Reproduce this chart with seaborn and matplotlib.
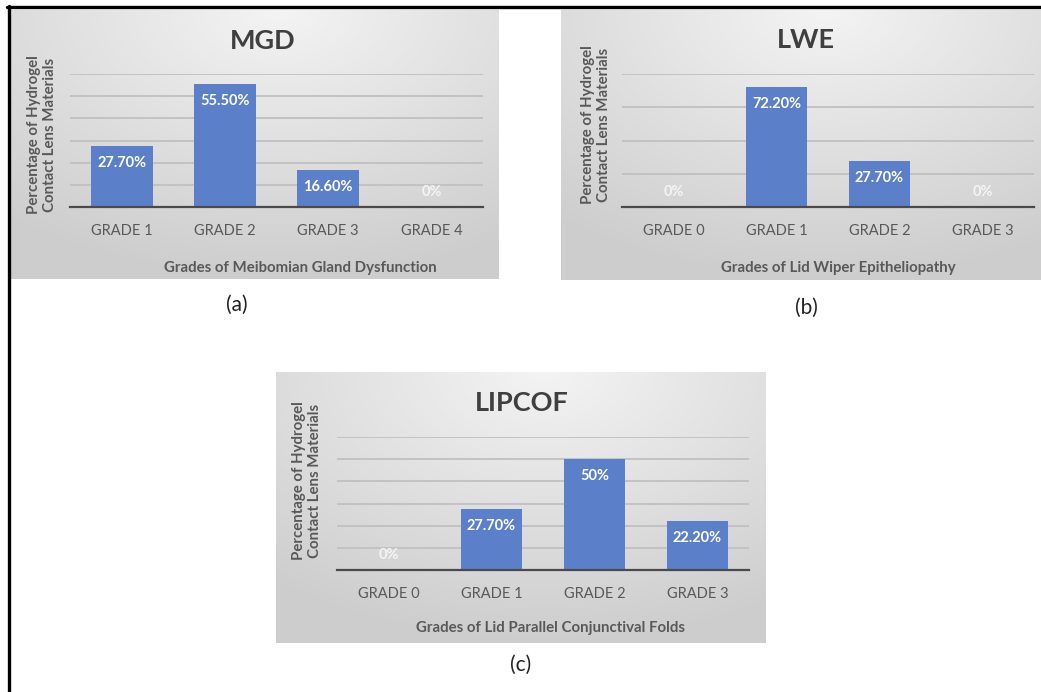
import numpy as np
import pandas as pd
import matplotlib
matplotlib.use("Agg")
import matplotlib.pyplot as plt
from matplotlib.lines import Line2D
import seaborn as sns

# ---- data ----
mgd_grades = ["GRADE 1", "GRADE 2", "GRADE 3", "GRADE 4"]
mgd_values = [27.7, 55.5, 16.6, 0.0]
mgd_labels = ["27.70%", "55.50%", "16.60%", "0%"]

lwe_grades = ["GRADE 0", "GRADE 1", "GRADE 2", "GRADE 3"]
lwe_values = [0.0, 72.2, 27.7, 0.0]
lwe_labels = ["0%", "72.20%", "27.70%", "0%"]

lip_grades = ["GRADE 0", "GRADE 1", "GRADE 2", "GRADE 3"]
lip_values = [0.0, 27.7, 50.0, 22.2]
lip_labels = ["0%", "27.70%", "50%", "22.20%"]

sns.set_theme(style="white")
plt.rcParams["font.family"] = ["Lato", "DejaVu Sans"]

W, H = 1041, 692
fig = plt.figure(figsize=(W / 100, H / 100), dpi=100)
fig.patch.set_facecolor("white")

BAR = "#5B80C9"
GRID = "#c0c0c0"
TICK = "#595959"
TITLE = "#3f3f3f"


def fx(x):
    return x / W


def fy(y):
    return 1 - y / H


def background(x0, y0, x1, y1):
    ax = fig.add_axes([fx(x0), fy(y1), fx(x1 - x0), (y1 - y0) / H])
    ny, nx = 200, 300
    yy, xx = np.mgrid[0:1:ny * 1j, 0:1:nx * 1j]
    d = np.sqrt(((xx - 0.55) / 0.9) ** 2 + ((yy - 0.0) / 1.0) ** 2)
    d = np.clip(d, 0, 1)
    shade = 0.955 - 0.15 * d
    img = np.dstack([shade, shade, shade])
    ax.imshow(img, aspect="auto", extent=[0, 1, 1, 0], interpolation="bicubic")
    ax.set_axis_off()
    return ax


def panel(box, plot, grades, values, labels, ymax, step, title, title_xy,
          xlabel, xlabel_xy, ylabel_xy, tag, tag_xy):
    background(*box)
    x0, y0, x1, y1 = plot
    ax = fig.add_axes([fx(x0), fy(y1), fx(x1 - x0), (y1 - y0) / H])
    ax.patch.set_alpha(0)
    df = pd.DataFrame({"grade": grades, "value": values})
    sns.barplot(data=df, x="grade", y="value", ax=ax, color=BAR,
                width=0.6, saturation=1, zorder=3, linewidth=0)
    ax.set_xlim(-0.5, len(grades) - 0.5)
    ax.set_ylim(0, ymax)
    ax.set_yticks(np.arange(0, ymax + 0.01, step))
    ax.yaxis.grid(True, color=GRID, lw=1.3, zorder=0)
    ax.set_axisbelow(True)
    ax.tick_params(axis="y", left=False, labelleft=False)
    ax.tick_params(axis="x", bottom=False, labelsize=10.5, labelcolor=TICK, pad=6)
    for s in ["left", "right", "top"]:
        ax.spines[s].set_visible(False)
    ax.spines["bottom"].set_color("#4a4a4a")
    ax.spines["bottom"].set_linewidth(1.6)
    ax.spines["bottom"].set_zorder(4)
    ax.set_xlabel("")
    ax.set_ylabel("")
    for i, (v, t) in enumerate(zip(values, labels)):
        if v > 0:
            ax.annotate(t, (i, v), xytext=(0, -17), textcoords="offset pixels",
                        ha="center", va="center", color="white",
                        fontsize=10.5, fontweight="bold", zorder=5)
        else:
            ax.annotate(t, (i, v), xytext=(0, 15), textcoords="offset pixels",
                        ha="center", va="center", color="#f4f4f4",
                        fontsize=10.5, fontweight="bold", zorder=5)
    fig.text(fx(title_xy[0]), fy(title_xy[1]), title, ha="center", va="center",
             fontsize=19.5, fontweight="bold", color=TITLE)
    fig.text(fx(xlabel_xy[0]), fy(xlabel_xy[1]), xlabel, ha="center", va="center",
             fontsize=10.8, fontweight="bold", color=TICK)
    fig.text(fx(ylabel_xy[0]), fy(ylabel_xy[1]),
             "Percentage of Hydrogel\nContact Lens Materials",
             ha="center", va="center", rotation=90, fontsize=10.8,
             fontweight="bold", color=TICK, linespacing=1.15)
    fig.text(fx(tag_xy[0]), fy(tag_xy[1]), tag, ha="center", va="center",
             fontsize=15, color="#222222")
    return ax


panel((11, 10, 499, 279), (70, 74, 483, 207), mgd_grades, mgd_values, mgd_labels,
      60, 10, "MGD", (263, 41), "Grades of Meibomian Gland Dysfunction", (300, 268),
      (42, 135), "(a)", (237, 305))

panel((561, 10, 1041, 280), (622, 74, 1034, 207), lwe_grades, lwe_values, lwe_labels,
      80, 20, "LWE", (806, 40), "Grades of Lid Wiper Epitheliopathy", (838, 268),
      (596, 125), "(b)", (806, 308))

panel((276, 372, 766, 643), (337, 437, 749, 570), lip_grades, lip_values, lip_labels,
      60, 10, "LIPCOF", (522, 403), "Grades of Lid Parallel Conjunctival Folds", (550, 628),
      (307, 481), "(c)", (521, 665))

# outer black border (left and top)
fig.add_artist(Line2D([fx(8.5), fx(8.5)], [fy(5.5), fy(692)], color="black", lw=2.4,
                      transform=fig.transFigure))
fig.add_artist(Line2D([fx(7.3), fx(1041)], [fy(7), fy(7)], color="black", lw=2.4,
                      transform=fig.transFigure))

fig.savefig("out.png", dpi=100)
